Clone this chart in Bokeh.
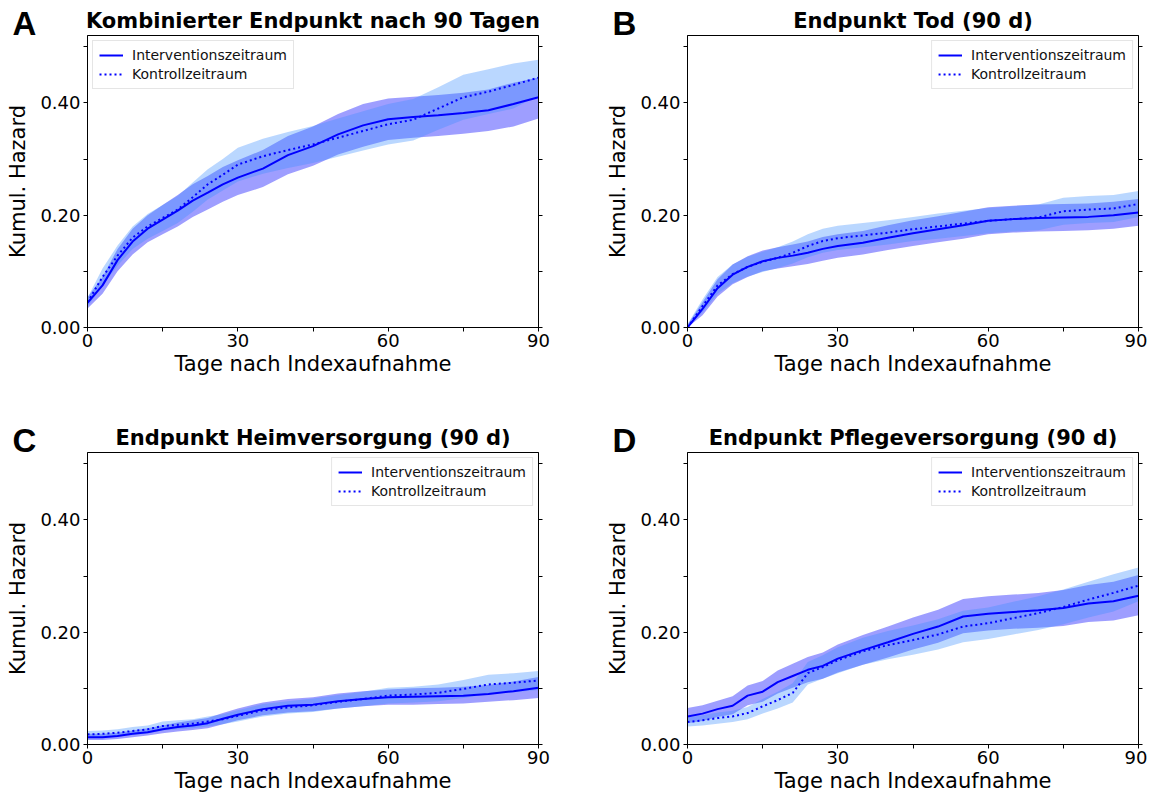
from bokeh.plotting import figure
from bokeh.models import (Range1d, FixedTicker, LinearAxis, Legend, LegendItem, Title)
from bokeh.layouts import gridplot
from bokeh.embed import file_html
from bokeh.resources import INLINE

# ---------------- data ----------------
days = [0, 3, 6, 9, 12, 15, 18, 21, 24, 27, 30, 35, 40, 45, 50, 55, 60, 65, 70, 75, 80, 85, 90]

# A: Kombinierter Endpunkt
a_int = [0.044, 0.075, 0.120, 0.153, 0.176, 0.192, 0.208, 0.226, 0.240, 0.255, 0.267, 0.283, 0.307, 0.323, 0.344, 0.360, 0.371, 0.375, 0.378, 0.382, 0.387, 0.398, 0.410]
a_int_lo = [0.034, 0.060, 0.100, 0.130, 0.152, 0.166, 0.180, 0.197, 0.210, 0.224, 0.236, 0.250, 0.273, 0.288, 0.308, 0.322, 0.334, 0.338, 0.341, 0.345, 0.350, 0.358, 0.372]
a_int_hi = [0.054, 0.090, 0.140, 0.176, 0.200, 0.218, 0.236, 0.255, 0.270, 0.286, 0.298, 0.316, 0.341, 0.358, 0.380, 0.398, 0.408, 0.411, 0.414, 0.418, 0.424, 0.436, 0.445]
a_ctl = [0.045, 0.090, 0.128, 0.160, 0.180, 0.195, 0.210, 0.232, 0.255, 0.272, 0.290, 0.305, 0.316, 0.326, 0.338, 0.350, 0.362, 0.370, 0.390, 0.410, 0.420, 0.432, 0.445]
a_ctl_lo = [0.037, 0.075, 0.110, 0.140, 0.158, 0.172, 0.186, 0.206, 0.228, 0.244, 0.260, 0.274, 0.284, 0.293, 0.304, 0.315, 0.326, 0.333, 0.352, 0.370, 0.380, 0.390, 0.413]
a_ctl_hi = [0.053, 0.105, 0.146, 0.180, 0.202, 0.218, 0.234, 0.258, 0.282, 0.300, 0.320, 0.336, 0.348, 0.359, 0.372, 0.385, 0.398, 0.407, 0.428, 0.450, 0.460, 0.470, 0.477]

# B: Endpunkt Tod
b_int = [0.000, 0.033, 0.070, 0.094, 0.108, 0.118, 0.124, 0.128, 0.133, 0.140, 0.145, 0.151, 0.160, 0.168, 0.175, 0.182, 0.190, 0.193, 0.195, 0.196, 0.197, 0.200, 0.205]
b_int_lo = [0.000, 0.022, 0.055, 0.077, 0.090, 0.100, 0.105, 0.109, 0.113, 0.119, 0.124, 0.130, 0.138, 0.145, 0.152, 0.158, 0.166, 0.169, 0.171, 0.172, 0.173, 0.176, 0.181]
b_int_hi = [0.005, 0.045, 0.086, 0.112, 0.127, 0.137, 0.143, 0.148, 0.153, 0.161, 0.166, 0.172, 0.182, 0.191, 0.198, 0.206, 0.214, 0.217, 0.219, 0.220, 0.221, 0.224, 0.229]
b_ctl = [0.000, 0.038, 0.075, 0.095, 0.108, 0.117, 0.124, 0.133, 0.145, 0.154, 0.159, 0.164, 0.169, 0.175, 0.180, 0.185, 0.190, 0.193, 0.196, 0.207, 0.210, 0.212, 0.220]
b_ctl_lo = [0.000, 0.027, 0.060, 0.079, 0.091, 0.099, 0.106, 0.114, 0.125, 0.133, 0.138, 0.143, 0.148, 0.154, 0.158, 0.163, 0.168, 0.171, 0.173, 0.183, 0.186, 0.188, 0.197]
b_ctl_hi = [0.006, 0.050, 0.090, 0.112, 0.126, 0.135, 0.143, 0.153, 0.166, 0.176, 0.181, 0.186, 0.191, 0.197, 0.203, 0.208, 0.213, 0.216, 0.219, 0.231, 0.234, 0.236, 0.243]

# C: Endpunkt Heimversorgung
c_int = [0.013, 0.013, 0.015, 0.019, 0.022, 0.027, 0.031, 0.034, 0.038, 0.046, 0.053, 0.063, 0.069, 0.071, 0.077, 0.081, 0.084, 0.085, 0.086, 0.087, 0.090, 0.095, 0.101]
c_int_lo = [0.008, 0.008, 0.010, 0.013, 0.016, 0.020, 0.023, 0.026, 0.029, 0.036, 0.043, 0.052, 0.057, 0.059, 0.064, 0.068, 0.071, 0.071, 0.072, 0.073, 0.076, 0.079, 0.083]
c_int_hi = [0.019, 0.019, 0.021, 0.025, 0.029, 0.034, 0.039, 0.043, 0.047, 0.056, 0.064, 0.075, 0.081, 0.084, 0.091, 0.095, 0.098, 0.100, 0.101, 0.103, 0.106, 0.112, 0.120]
c_ctl = [0.018, 0.019, 0.021, 0.024, 0.027, 0.033, 0.035, 0.037, 0.041, 0.045, 0.051, 0.061, 0.066, 0.070, 0.076, 0.081, 0.087, 0.089, 0.092, 0.099, 0.107, 0.110, 0.114]
c_ctl_lo = [0.012, 0.013, 0.015, 0.017, 0.020, 0.025, 0.027, 0.029, 0.032, 0.036, 0.041, 0.050, 0.055, 0.058, 0.064, 0.068, 0.073, 0.075, 0.077, 0.083, 0.090, 0.093, 0.097]
c_ctl_hi = [0.024, 0.025, 0.027, 0.031, 0.034, 0.041, 0.043, 0.045, 0.050, 0.054, 0.061, 0.072, 0.077, 0.082, 0.088, 0.094, 0.101, 0.103, 0.107, 0.115, 0.124, 0.127, 0.131]

# D: Endpunkt Pflegeversorgung
d_int = [0.050, 0.055, 0.063, 0.069, 0.087, 0.094, 0.111, 0.122, 0.133, 0.140, 0.153, 0.168, 0.182, 0.197, 0.210, 0.228, 0.233, 0.236, 0.239, 0.243, 0.251, 0.255, 0.265]
d_int_lo = [0.038, 0.042, 0.049, 0.054, 0.070, 0.076, 0.091, 0.101, 0.111, 0.117, 0.128, 0.142, 0.155, 0.169, 0.181, 0.198, 0.203, 0.206, 0.208, 0.211, 0.218, 0.221, 0.230]
d_int_hi = [0.065, 0.070, 0.078, 0.086, 0.105, 0.113, 0.132, 0.144, 0.156, 0.164, 0.178, 0.195, 0.210, 0.226, 0.240, 0.259, 0.264, 0.267, 0.270, 0.275, 0.284, 0.290, 0.302]
d_ctl = [0.040, 0.043, 0.047, 0.050, 0.056, 0.068, 0.079, 0.092, 0.127, 0.138, 0.150, 0.166, 0.177, 0.186, 0.196, 0.210, 0.216, 0.225, 0.234, 0.245, 0.258, 0.270, 0.283]
d_ctl_lo = [0.032, 0.034, 0.037, 0.040, 0.045, 0.055, 0.064, 0.075, 0.107, 0.117, 0.127, 0.142, 0.152, 0.160, 0.169, 0.182, 0.188, 0.196, 0.204, 0.214, 0.226, 0.237, 0.255]
d_ctl_hi = [0.048, 0.052, 0.057, 0.060, 0.067, 0.081, 0.094, 0.109, 0.147, 0.159, 0.173, 0.190, 0.202, 0.212, 0.223, 0.238, 0.244, 0.254, 0.264, 0.276, 0.290, 0.303, 0.315]

panel_letters = ["A", "B", "C", "D"]
panel_titles = ["Kombinierter Endpunkt nach 90 Tagen", "Endpunkt Tod (90 d)",
                "Endpunkt Heimversorgung (90 d)", "Endpunkt Pflegeversorgung (90 d)"]
series_names = ["Interventionszeitraum", "Kontrollzeitraum"]
x_ticks = [0, 30, 60, 90]
x_minor = [15, 45, 75]
y_ticks = [0.0, 0.2, 0.4]
y_minor = [0.1, 0.3, 0.5]
y_right_ticks = [0.0, 0.1, 0.2, 0.3, 0.4, 0.5]
y_tick_labels = ["0.00", "0.20", "0.40"]
x_label = "Tage nach Indexaufnahme"
y_label = "Kumul. Hazard"

FONT = "DejaVu Sans"


def make_panel(i, data, legend_pos, width, height, border_right, border_bottom):
    ci, ci_lo, ci_hi, cc, cc_lo, cc_hi = data
    p = figure(width=width, height=height, output_backend="svg", toolbar_location=None,
               x_range=Range1d(0, 90), y_range=Range1d(0, 0.52),
               min_border_left=87, min_border_right=border_right,
               min_border_top=35, min_border_bottom=border_bottom,
               tools="")
    p.title.text = panel_titles[i]
    p.title.text_font = FONT
    p.title.text_font_size = "21px"
    p.title.text_font_style = "bold"
    p.title.text_color = "black"
    p.title.align = "center"
    p.title.standoff = -48
    p.title.offset = 0

    # panel letter in its own title slot just above the frame
    letter = Title(text=panel_letters[i], align="left", offset=-75, standoff=-12,
                   text_font="Liberation Sans", text_font_size="33px",
                   text_font_style="bold", text_color="black")
    p.add_layout(letter, "above")

    p.outline_line_color = "black"
    p.outline_line_width = 1
    p.outline_line_alpha = 1
    p.xgrid.visible = False
    p.ygrid.visible = False
    p.background_fill_color = "white"
    p.border_fill_color = "white"

    # bands
    p.varea(x=days, y1=ci_lo, y2=ci_hi, fill_color="#0000ff", fill_alpha=0.38)
    p.varea(x=days, y1=cc_lo, y2=cc_hi, fill_color="#3a8dff", fill_alpha=0.35)
    r1 = p.line(days, ci, line_color="#0000ff", line_width=2)
    r2 = p.line(days, cc, line_color="#0000ff", line_width=2, line_dash="2 3")

    xa = p.xaxis[0]
    xa.ticker = FixedTicker(ticks=x_ticks, minor_ticks=x_minor)
    ya = p.yaxis[0]
    ya.ticker = FixedTicker(ticks=y_ticks, minor_ticks=y_minor)
    ya.major_label_overrides = {t: lab for t, lab in zip(y_ticks, y_tick_labels)}
    xa.axis_label = x_label
    ya.axis_label = y_label
    for ax in (xa, ya):
        ax.axis_label_text_font = FONT
        ax.axis_label_text_font_size = "21px"
        ax.axis_label_text_font_style = "normal"
        ax.axis_label_text_color = "black"
        ax.major_label_text_font = FONT
        ax.major_label_text_font_size = "18px"
        ax.major_label_text_color = "black"
        ax.axis_line_color = "black"
        ax.major_tick_line_color = "black"
        ax.minor_tick_line_color = "black"
        ax.major_tick_in = 0
        ax.major_tick_out = 4
        ax.minor_tick_in = 0
        ax.minor_tick_out = 4
    xa.major_label_standoff = 2
    ya.major_label_standoff = 3
    xa.axis_label_standoff = 2
    ya.axis_label_standoff = 7

    ra = LinearAxis(ticker=FixedTicker(ticks=y_right_ticks))
    ra.major_label_overrides = {t: "" for t in y_right_ticks}
    ra.major_label_standoff = 0
    ra.major_tick_in = 0
    ra.major_tick_out = 4
    ra.minor_tick_line_color = None
    ra.axis_line_color = "black"
    p.add_layout(ra, "right")

    legend = Legend(items=[LegendItem(label=series_names[0], renderers=[r1]),
                           LegendItem(label=series_names[1], renderers=[r2])],
                    location=legend_pos, margin=5, padding=6, spacing=3,
                    label_text_font=FONT, label_text_font_size="14px",
                    label_text_color="#111111", label_standoff=9,
                    glyph_width=24, glyph_height=16, label_height=16,
                    border_line_color="#cccccc", border_line_width=1,
                    background_fill_color="white", background_fill_alpha=0.8)
    p.add_layout(legend, "center")
    return p


pA = make_panel(0, (a_int, a_int_lo, a_int_hi, a_ctl, a_ctl_lo, a_ctl_hi), "top_left", 600, 417, 62, 90)
pB = make_panel(1, (b_int, b_int_lo, b_int_hi, b_ctl, b_ctl_lo, b_ctl_hi), "top_right", 547, 417, 9, 90)
pC = make_panel(2, (c_int, c_int_lo, c_int_hi, c_ctl, c_ctl_lo, c_ctl_hi), "top_right", 600, 380, 62, 53)
pD = make_panel(3, (d_int, d_int_lo, d_int_hi, d_ctl, d_ctl_lo, d_ctl_hi), "top_right", 547, 380, 9, 53)

grid = gridplot([[pA, pB], [pC, pD]], toolbar_location=None)

open("out.html", "w").write(file_html(grid, INLINE))
